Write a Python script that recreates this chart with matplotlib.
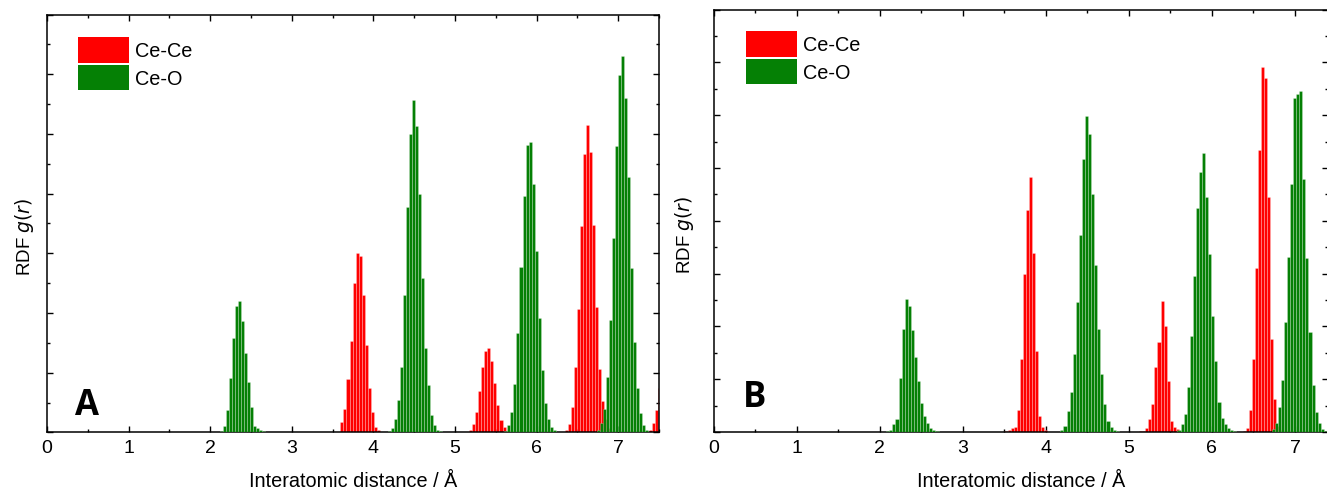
import numpy as np
import matplotlib
matplotlib.use("Agg")
import matplotlib.pyplot as plt
from matplotlib.patches import Patch
from matplotlib.ticker import MultipleLocator

plt.rcParams['font.family'] = ['Liberation Sans', 'DejaVu Sans']

# histogram bin width (Angstrom)
w = 0.037

# panel A: first bin centre of each peak and bin heights
a_cece_start = [3.615, 5.157, 6.324, 7.353]
a_cece_h = [
    [0.17, 0.40, 0.89, 1.53, 2.50, 3.00, 2.96, 2.31, 1.47, 0.75, 0.34, 0.10, 0.04, 0.01],
    [0.01, 0.05, 0.15, 0.35, 0.70, 1.09, 1.37, 1.42, 1.19, 0.83, 0.46, 0.21, 0.10, 0.03],
    [0.01, 0.05, 0.15, 0.42, 1.10, 2.07, 3.45, 4.66, 5.15, 4.70, 3.47, 2.10, 1.07, 0.53, 0.22, 0.08],
    [0.01, 0.04, 0.16, 0.37, 0.75],
]
a_ceo_start = [2.133, 4.157, 5.624, 6.717]
a_ceo_h = [
    [0.03, 0.11, 0.37, 0.91, 1.59, 2.12, 2.21, 1.87, 1.33, 0.85, 0.42, 0.11, 0.07, 0.04, 0.03, 0.01],
    [0.01, 0.03, 0.08, 0.22, 0.55, 1.10, 2.30, 3.77, 5.00, 5.57, 5.13, 4.00, 2.59, 1.41, 0.79, 0.30,
     0.13, 0.05, 0.02],
    [0.02, 0.13, 0.35, 0.82, 1.66, 2.77, 3.96, 4.81, 4.86, 4.16, 3.04, 1.92, 1.05, 0.50, 0.23, 0.09,
     0.04, 0.01],
    [0.01, 0.05, 0.16, 0.39, 0.93, 1.89, 3.25, 4.79, 5.98, 6.30, 5.60, 4.28, 2.76, 1.52, 0.74, 0.33,
     0.12, 0.04, 0.01],
]

# panel B
b_cece_start = [3.521, 5.141, 6.388]
b_cece_h = [
    [0.02, 0.04, 0.07, 0.09, 0.42, 1.38, 2.99, 4.21, 4.84, 3.39, 1.54, 0.31, 0.09, 0.04],
    [0.01, 0.02, 0.08, 0.25, 0.53, 1.24, 1.71, 2.49, 2.01, 0.97, 0.21, 0.10, 0.06],
    [0.02, 0.07, 0.42, 1.38, 3.11, 5.35, 6.92, 6.71, 4.45, 1.77, 0.63, 0.12, 0.04],
]
b_ceo_start = [2.098, 4.194, 5.604, 6.737]
b_ceo_h = [
    [0.02, 0.04, 0.15, 0.25, 1.03, 1.96, 2.52, 2.39, 1.94, 1.43, 0.96, 0.55, 0.31, 0.18, 0.08, 0.04, 0.02],
    [0.04, 0.12, 0.40, 0.76, 1.48, 2.46, 3.74, 5.18, 5.99, 5.64, 4.50, 3.16, 1.95, 1.10, 0.53, 0.20,
     0.09, 0.04, 0.02],
    [0.04, 0.15, 0.34, 0.85, 1.82, 2.96, 4.24, 4.92, 5.28, 4.45, 3.37, 2.19, 1.35, 0.57, 0.26, 0.15,
     0.07, 0.03, 0.01],
    [0.06, 0.18, 0.47, 0.99, 2.08, 3.32, 4.70, 6.33, 6.40, 6.46, 4.79, 3.29, 1.89, 0.89, 0.37, 0.18,
     0.06, 0.02],
]

red = '#ff0000'
green = '#058005'


def draw_peaks(ax, starts, heights, color, z):
    for r0, h in zip(starts, heights):
        r = r0 + w * np.arange(len(h))
        ax.bar(r, h, width=w, color=color, edgecolor=(1, 1, 1, 0.4),
               linewidth=0.4, zorder=z)


def style(ax, xmax, ymax, letter, lx, ly, ylab_x, leg_xy):
    ax.set_xlim(0, xmax)
    ax.set_ylim(0, ymax)
    ax.xaxis.set_major_locator(MultipleLocator(1))
    ax.xaxis.set_minor_locator(MultipleLocator(0.5))
    ax.yaxis.set_major_locator(MultipleLocator(1))
    ax.yaxis.set_minor_locator(MultipleLocator(0.5))
    ax.tick_params(which='both', direction='in', top=True, right=True,
                   labelleft=False, width=1)
    ax.tick_params(which='major', length=4, labelsize=14, pad=5)
    ax.tick_params(which='minor', length=2.5)
    for s in ax.spines.values():
        s.set_linewidth(1.1)
    ax.set_xlabel('Interatomic distance / Å', fontsize=14.3)
    ax.xaxis.set_label_coords(0.5, -0.093)
    ax.set_ylabel('RDF $\\mathit{g(r)}$', fontsize=13.5)
    ax.yaxis.set_label_coords(ylab_x, 0.47)
    ax.text(lx, ly, letter, transform=ax.transAxes, fontsize=25,
            fontweight='bold', family=['Open Sans', 'DejaVu Sans'])
    handles = [Patch(facecolor=red, edgecolor='none'),
               Patch(facecolor=green, edgecolor='none')]
    ax.legend(handles, ['Ce-Ce', 'Ce-O'], loc='upper left',
              bbox_to_anchor=leg_xy, frameon=False, fontsize=14.3,
              handlelength=2.55, handleheight=1.6, labelspacing=0.1,
              handletextpad=0.3, borderpad=0, borderaxespad=0)


fig = plt.figure(figsize=(13.27, 4.89), dpi=100)
ax_a = fig.add_axes([0.0354, 0.1135, 0.4612, 0.8548])
ax_b = fig.add_axes([0.5377, 0.1145, 0.4632, 0.8636])

draw_peaks(ax_a, a_cece_start, a_cece_h, red, 2)
draw_peaks(ax_a, a_ceo_start, a_ceo_h, green, 3)
style(ax_a, 7.5, 7, 'A', 0.046, 0.045, -0.018, (0.0507, 0.946))

draw_peaks(ax_b, b_cece_start, b_cece_h, red, 2)
draw_peaks(ax_b, b_ceo_start, b_ceo_h, green, 3)
style(ax_b, 7.4, 8, 'B', 0.047, 0.062, -0.028, (0.0529, 0.9496))

fig.savefig('out.png', dpi=100)
